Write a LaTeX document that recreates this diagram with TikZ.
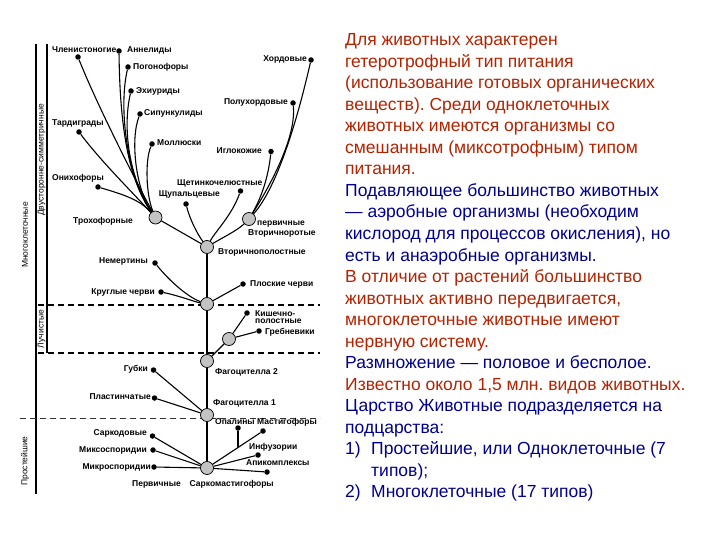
\documentclass[tikz,border=0pt]{standalone}
\usepackage{fontspec}
\setmainfont{Liberation Sans}
\definecolor{tred}{RGB}{180,35,0}
\definecolor{tblue}{RGB}{0,0,140}
\definecolor{hubgray}{RGB}{195,195,195}
\frenchspacing
\begin{document}
\begin{tikzpicture}[x=1pt,y=-1pt,
  lbl/.style={font=\fontsize{8.5}{8}\selectfont\bfseries, inner sep=0pt},
  vlbl/.style={font=\fontsize{8.5}{9}\selectfont, inner sep=0pt, rotate=90},
  dot/.style={circle,fill=black,inner sep=0pt,minimum size=5.5pt},
  hub/.style={circle,draw=black,line width=0.7pt,fill=hubgray,inner sep=0pt,minimum size=13pt},
  br/.style={line width=1.1pt},
  bigdash/.style={line width=1.4pt,dash pattern=on 6pt off 4pt},
  smalldash/.style={line width=0.8pt,dash pattern=on 6pt off 4pt,black!80},
  txt/.style={font=\fontsize{17.5}{21}\selectfont, inner sep=0pt, anchor=base west}
]
\useasboundingbox (0,0) rectangle (720,540);
\fill[white] (0,0) rectangle (720,540);

% frame lines and dashed boundaries
\draw[line width=1.3pt] (36,44) -- (36,494);
\draw[line width=1.3pt] (47,44) -- (47,353);
\draw[bigdash] (38,305) -- (320,305);
\draw[bigdash] (38,353) -- (320,353);
\draw[smalldash] (20,418) -- (320,418);

\node[vlbl] (mnog) at (25,235) {Многоклеточные};
\node[vlbl] (dvus) at (41.5,160) {Двусторонне-симметричные};
\node[vlbl] (luchl) at (41.5,329) {Лучистые};
\node[vlbl] (prost) at (25,461) {Простейшие};

% hubs
\node[hub] (tro) at (155.5,217.5) {};
\node[hub] (per) at (249,219) {};
\node[hub] (vto) at (207,247) {};
\node[hub] (bes) at (207,304) {};
\node[hub] (luch) at (229,339) {};
\node[hub] (fag2) at (207,361) {};
\node[hub] (fag1) at (207,415) {};
\node[hub] (prim) at (207,468) {};

% dots
\node[dot] (chl) at (78,57) {};
\node[dot] (ann) at (119,51) {};
\node[dot] (pog) at (128,67) {};
\node[dot] (ehi) at (131,91) {};
\node[dot] (sip) at (140,114) {};
\node[dot] (tar) at (79,132) {};
\node[dot] (mol) at (152,144) {};
\node[dot] (oni) at (98,187) {};
\node[dot] (shu) at (186,204) {};
\node[dot] (shch) at (240.5,191) {};
\node[dot] (hor) at (311,60) {};
\node[dot] (pol) at (293,103) {};
\node[dot] (igl) at (271,151.5) {};
\node[dot] (nem) at (155,263) {};
\node[dot] (kru) at (161,292) {};
\node[dot] (plo) at (243,284) {};
\node[dot] (kish) at (247,313) {};
\node[dot] (greb) at (259,331) {};
\node[dot] (gub) at (153.5,370) {};
\node[dot] (pla) at (154.5,398) {};
\node[dot] (opa) at (238,428) {};
\node[dot] (mas) at (263,431) {};
\node[dot] (inf) at (258,455) {};
\node[dot] (api) at (267,472) {};
\node[dot] (sar) at (152.5,436) {};
\node[dot] (mik) at (153,450) {};
\node[dot] (mic) at (154,467) {};

% labels
\node[lbl,anchor=west] (Lchl) at (52,50) {Членистоногие};
\node[lbl,anchor=west] (Lann) at (127,50) {Аннелиды};
\node[lbl,anchor=west] (Lpog) at (133,67) {Погонофоры};
\node[lbl,anchor=west] (Lehi) at (136,91) {Эхиуриды};
\node[lbl,anchor=west] (Lsip) at (144,113) {Сипункулиды};
\node[lbl,anchor=west] (Ltar) at (52,123) {Тардиграды};
\node[lbl,anchor=west] (Lmol) at (157,143) {Моллюски};
\node[lbl,anchor=west] (Loni) at (52,178) {Онихофоры};
\node[lbl,anchor=west] (Ltro) at (73,221) {Трохофорные};
\node[lbl,anchor=east] (Lshu) at (220,194.5) {Щупальцевые};
\node[lbl,anchor=west] (Lshch) at (177,183) {Щетинкочелюстные};
\node[lbl,anchor=east] (Lhor) at (307,59) {Хордовые};
\node[lbl,anchor=east] (Lpol) at (288,102) {Полухордовые};
\node[lbl,anchor=east] (Ligl) at (262,151) {Иглокожие};
\node[lbl,anchor=west] (Lper) at (257,224.5) {первичные};
\node[lbl,anchor=west] (Lvtr) at (248,233.5) {Вторичноротые};
\node[lbl,anchor=west] (Lvto) at (218,252) {Вторичнополостные};
\node[lbl,anchor=east] (Lnem) at (148,261) {Немертины};
\node[lbl,anchor=east] (Lkru) at (155,292) {Круглые черви};
\node[lbl,anchor=west] (Lplo) at (250,284) {Плоские черви};
\node[lbl,anchor=west,align=left,font=\fontsize{8.5}{7.5}\selectfont\bfseries] (Lkish) at (255,317) {Кишечно-\\полостные};
\node[lbl,anchor=west] (Lgreb) at (265,332) {Гребневики};
\node[lbl,anchor=west] (Lfag2) at (215,372) {Фагоцителла 2};
\node[lbl,anchor=east] (Lgub) at (148,369) {Губки};
\node[lbl,anchor=east] (Lpla) at (151,397) {Пластинчатые};
\node[lbl,anchor=west] (Lfag1) at (213,403) {Фагоцителла 1};
\node[lbl,anchor=west] (Lopa) at (215,422) {Опалины};
\node[lbl,anchor=west] (Lmas) at (257,422) {Мастигофоры};
\node[lbl,anchor=west] (Linf) at (249,447) {Инфузории};
\node[lbl,anchor=west] (Lapi) at (246,463) {Апикомплексы};
\node[lbl,anchor=east] (Lsar) at (147,433) {Саркодовые};
\node[lbl,anchor=east] (Lmik) at (147,450) {Миксоспоридии};
\node[lbl,anchor=east] (Lmic) at (151,467) {Микроспоридии};
\node[lbl,anchor=west] (Lprim) at (132,484) {Первичные\hspace{9pt}Саркомастигофоры};

% trunk
\draw[br] (prim) -- (fag1);
\draw[br] (fag1) -- (fag2);
\draw[br] (fag2) -- (bes);
\draw[br] (bes) -- (vto);

% Trochophora branches
\draw[br] (tro) .. controls (130,170) and (95,100) .. (chl);
\draw[br] (tro) .. controls (132,185) and (120,140) .. (ann);
\draw[br] (tro) .. controls (128,180) and (118,110) .. (pog);
\draw[br] (tro) .. controls (130,180) and (122,130) .. (ehi);
\draw[br] (tro) .. controls (136,190) and (130,140) .. (sip);
\draw[br] (tro) .. controls (146,195) and (145,160) .. (mol);
\draw[br] (tro) .. controls (130,190) and (100,160) .. (tar);
\draw[br] (tro) .. controls (140,200) and (125,195) .. (oni);

% Secondary
\draw[br] (vto) -- (tro);
\draw[br] (vto) .. controls (198,235) and (190,220) .. (shu);
\draw[br] (vto) .. controls (215,232) and (232,215) .. (shch);
\draw[br] (vto) .. controls (222,238) and (238,230) .. (per);
\draw[br] (per) .. controls (275,190) and (295,130) .. (hor);
\draw[br] (per) .. controls (280,170) and (296,130) .. (pol);
\draw[br] (per) .. controls (260,200) and (268,180) .. (igl);

% protostome lower
\draw[br] (bes) .. controls (190,298) and (172,284) .. (nem);
\draw[br] (bes) .. controls (195,302) and (180,296) .. (kru);
\draw[br] (bes) -- (plo);

% radiata
\draw[br] (fag2) -- (luch);
\draw[br] (luch) -- (kish);
\draw[br] (luch) -- (greb);

% phagocytella 1
\draw[br] (fag1) -- (gub);
\draw[br] (fag1) -- (pla);

% protozoa
\draw[br] (prim) -- (sar);
\draw[br] (prim) -- (mik);
\draw[br] (prim) -- (mic);
\draw[br] (prim) -- (mas);
\coordinate (opaj) at (238,447.5);
\draw[br] (opa) -- (opaj);
\draw[br] (prim) -- (inf);
\draw[br] (prim) -- (api);

% text
\node[txt,text=tred] (t1) at (345,46) {Для животных характерен};
\node[txt,text=tred] (t2) at (345,67.5) {гетеротрофный тип питания};
\node[txt,text=tred] (t3) at (345,89) {(использование готовых органических};
\node[txt,text=tred] (t4) at (345,110.5) {веществ). Среди одноклеточных};
\node[txt,text=tred] (t5) at (345,132) {животных имеются организмы со};
\node[txt,text=tred] (t6) at (345,153.5) {смешанным (миксотрофным) типом};
\node[txt,text=tred] (t7) at (345,175) {питания.};
\node[txt,text=tblue] (t8) at (345,196.5) {Подавляющее большинство животных};
\node[txt,text=tblue] (t9) at (345,218) {— аэробные организмы (необходим};
\node[txt,text=tblue] (t10) at (345,239.5) {кислород для процессов окисления), но};
\node[txt,text=tblue] (t11) at (345,261) {есть и анаэробные организмы.};
\node[txt,text=tred] (t12) at (345,282.5) {В отличие от растений большинство};
\node[txt,text=tred] (t13) at (345,304) {животных активно передвигается,};
\node[txt,text=tred] (t14) at (345,325.5) {многоклеточные животные имеют};
\node[txt,text=tred] (t15) at (345,347) {нервную систему.};
\node[txt,text=tblue] (t16) at (345,368.5) {Размножение — половое и бесполое.};
\node[txt,text=tred] (t17) at (345,390) {Известно около 1,5 млн. видов животных.};
\node[txt,text=tblue] (t18) at (345,411.5) {Царство Животные подразделяется на};
\node[txt,text=tblue] (t19) at (345,433) {подцарства:};
\node[txt,text=tblue] (t20) at (345,454.5) {1)};
\node[txt,text=tblue] (t20b) at (371,454.5) {Простейшие, или Одноклеточные (7};
\node[txt,text=tblue] (t21) at (371,476) {типов);};
\node[txt,text=tblue] (t22) at (345,497.5) {2)};
\node[txt,text=tblue] (t22b) at (371,497.5) {Многоклеточные (17 типов)};
\end{tikzpicture}
\end{document}
